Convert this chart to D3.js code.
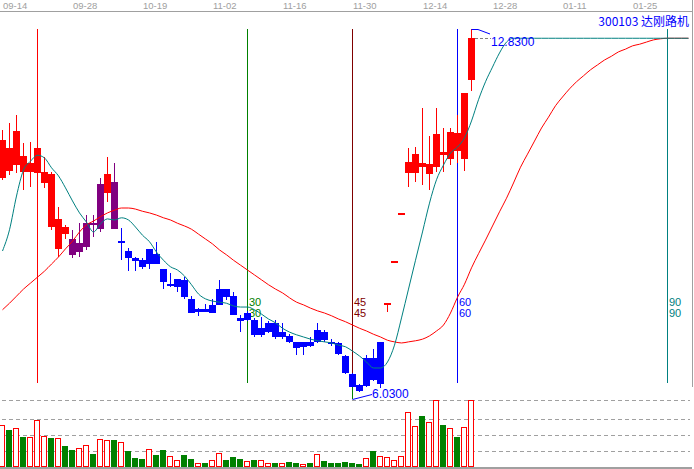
<!DOCTYPE html>
<html><head><meta charset="utf-8">
<script src="https://cdn.jsdelivr.net/npm/d3@7"></script>
<style>html,body{margin:0;padding:0;background:#fff;overflow:hidden}</style>
</head><body><svg id="c" width="694" height="469"></svg>
<script>
// ---------------- data ----------------
const title = "300103 达刚路机";
const nSlots = 99; // 68 trading days + projection slots
const tickIdx = [0,10,20,30,40,50,60,70,80,90];
const tickLabels = ["09-14","09-28","10-19","11-02","11-16","11-30","12-14","12-28","01-11","01-25"];

const open  = [10.09,10.64,10.33,10.50,10.20,10.18,10.00,10.17,8.79,9.19,
               8.97,8.73,8.82,9.27,9.15,9.82,10.02,8.92,8.75,8.62,
               8.58,8.51,8.70,8.42,8.13,8.09,8.22,7.87,7.63,7.68,
               7.61,7.76,8.05,7.92,7.52,7.48,7.48,7.21,7.26,7.43,
               7.17,7.19,7.08,6.99,7.08,7.08,7.26,7.08,7.06,6.82,
               6.49,6.29,6.27,6.78,6.31,7.77,8.57,9.45,10.18,10.18,
               10.37,10.17,10.29,10.57,10.44,10.92,10.44,11.89];
const high  = [10.97,11.10,11.25,10.73,10.75,11.01,10.48,10.20,9.56,9.23,
               9.14,9.26,9.41,9.41,10.09,10.48,10.37,9.17,8.81,8.64,
               8.62,8.79,8.92,8.42,8.35,8.24,8.27,7.92,7.70,7.78,
               7.87,8.22,8.05,8.00,7.57,7.65,7.52,7.54,7.46,7.48,
               7.43,7.22,7.08,7.08,7.17,7.43,7.30,7.13,7.08,6.84,
               6.51,6.31,6.84,6.95,7.08,7.79,8.57,9.45,10.64,10.66,
               11.38,10.86,11.38,11.01,11.01,11.25,11.65,12.83];
const low   = [10.06,10.15,10.18,9.87,9.93,9.96,9.91,9.14,8.64,8.97,
               8.62,8.64,8.77,9.01,9.10,9.65,9.15,8.58,8.38,8.38,
               8.42,8.42,8.51,8.05,8.09,8.00,7.87,7.61,7.56,7.63,
               7.61,7.76,7.85,7.57,7.26,7.46,7.17,7.17,7.24,7.13,
               7.13,7.06,6.84,6.84,6.99,7.06,7.08,7.00,6.84,6.49,
               6.03,6.16,6.25,6.36,6.23,7.63,8.57,9.45,9.93,10.02,
               9.96,9.87,10.20,10.20,10.33,10.37,10.22,11.69];
const close = [10.79,10.22,10.96,10.20,10.37,10.64,10.20,9.19,9.34,9.06,
               8.68,8.90,9.26,9.25,9.98,10.17,9.15,8.93,8.62,8.57,
               8.46,8.79,8.51,8.18,8.14,8.24,7.90,7.61,7.68,7.63,
               7.76,8.05,7.90,7.57,7.46,7.61,7.21,7.33,7.43,7.17,
               7.26,7.08,6.97,7.08,7.00,7.30,7.11,7.06,6.86,6.51,
               6.25,6.18,6.78,6.38,7.08,7.79,8.57,9.45,10.39,10.53,
               10.29,10.35,10.90,10.51,10.94,10.59,11.65,12.66];
// trend state that colours each candle: 1 = rising, 0 = turning, -1 = falling
const trendState = [1,1,1,1,1,1,1,1,1,1, 0,0,0,0,0,1,0,-1,-1,-1,
  -1,-1,-1,-1,-1,-1,-1,-1,-1,-1, -1,-1,-1,-1,-1,-1,-1,-1,-1,-1,
  -1,-1,-1,-1,-1,-1,-1,-1,-1,-1, -1,-1,-1,-1,-1,1,1,1,1,1, 1,1,1,1,1,1,1,1];
const volume = [420,370,390,300,300,470,310,290,290,210,
                170,190,220,130,280,270,270,250,160,90,
                80,180,120,170,110,70,120,80,40,40,
                70,140,70,100,80,60,70,70,40,40,
                40,50,40,30,40,130,60,40,40,50,
                40,30,90,160,110,100,70,110,550,410,
                510,450,670,420,390,300,400,670];
const volumeGrid = [160,320,480,670];
// short (teal) and long (red) moving averages, incl. projection slots
const maShort = [8.75,9.14,9.76,10.24,10.40,10.51,10.46,10.28,10.13,9.91,
  9.67,9.45,9.28,9.10,9.25,9.34,9.32,9.36,9.32,9.19,
  9.04,8.92,8.73,8.58,8.46,8.40,8.29,8.13,7.96,7.87,
  7.83,7.81,7.79,7.74,7.72,7.72,7.67,7.59,7.50,7.43,
  7.33,7.26,7.21,7.17,7.13,7.10,7.08,7.06,7.02,6.99,
  6.91,6.82,6.71,6.60,6.60,6.71,7.02,7.52,8.05,8.58,
  9.10,9.63,10.06,10.33,10.55,10.66,10.83,11.14,11.53,11.86,
  12.13,12.39,12.59,12.66,12.66,12.66,12.66,12.66,12.66,12.66,
  12.66,12.66,12.66,12.66,12.66,12.66,12.66,12.66,12.66,12.66,
  12.66,12.66,12.66,12.66,12.66,12.66,12.66,12.66,12.66];
const maLong = [7.67,7.79,7.92,8.05,8.16,8.27,8.38,8.51,8.64,8.79,
  8.93,9.10,9.23,9.30,9.38,9.45,9.50,9.54,9.54,9.52,
  9.48,9.45,9.41,9.36,9.32,9.26,9.21,9.15,9.06,8.97,
  8.88,8.77,8.68,8.58,8.49,8.40,8.31,8.22,8.13,8.05,
  7.98,7.89,7.81,7.76,7.70,7.65,7.61,7.56,7.50,7.45,
  7.39,7.33,7.28,7.22,7.17,7.11,7.08,7.06,7.08,7.10,
  7.13,7.19,7.28,7.39,7.61,7.90,8.14,8.44,8.70,8.95,
  9.21,9.47,9.72,10.00,10.29,10.53,10.77,11.01,11.21,11.42,
  11.58,11.73,11.86,11.97,12.08,12.17,12.26,12.33,12.41,12.46,
  12.52,12.55,12.59,12.63,12.65,12.66,12.66,12.66,12.66];
// time-cycle lines counted from bar 5
const cycleIdx = [5,35,50,65,95];
const cycleLabels = ["","30","45","60","90"];

// ---------------- drawing ----------------
const svg = d3.select("#c");
svg.append("rect").attr("width",694).attr("height",469).attr("fill","#fff");

const x = d3.scaleBand().domain(d3.range(nSlots)).range([-1.5, 691.5]).padding(0);
const cx = i => Math.round(x(i) + x.bandwidth()/2);
const y = d3.scaleLinear().domain([6.03, 12.83]).range([399, 29]);
const vy = d3.scaleLinear().domain([0, 670]).range([467, 400]);

const RED="#ff0000", BLUE="#0000ff", PURPLE="#800080", GREEN="#008000",
      TEAL="#008080", MAROON="#800000", GREY="#a0a0a0";
const trendColor = s => s>0 ? RED : (s<0 ? BLUE : PURPLE);
const cycleColor = [RED, GREEN, MAROON, BLUE, TEAL];
const font = "Liberation Sans, Arial, sans-serif";

// top date axis
svg.append("line").attr("x1",0).attr("x2",692).attr("y1",11.5).attr("y2",11.5)
  .attr("stroke",GREY).attr("stroke-width",1);
svg.append("g").selectAll("text").data(tickIdx).join("text")
  .attr("x", i => cx(i)+1).attr("y", 9)
  .attr("font-family", font).attr("font-size", 9.5).attr("fill", GREY)
  .text((d,k) => tickLabels[k]);

// right border
svg.append("line").attr("x1",692.5).attr("x2",692.5).attr("y1",0).attr("y2",387)
  .attr("stroke",GREY);

// volume grid
svg.append("g").selectAll("line").data(volumeGrid).join("line")
  .attr("x1",2).attr("x2",690)
  .attr("y1", v => Math.round(vy(v))+0.5).attr("y2", v => Math.round(vy(v))+0.5)
  .attr("stroke",GREY).attr("stroke-dasharray","4,3");
svg.append("line").attr("x1",0).attr("x2",692).attr("y1",468).attr("y2",468)
  .attr("stroke",GREY).attr("stroke-width",2);

// volume bars
const vb = svg.append("g");
volume.forEach((v,i) => {
  const top = Math.round(vy(v)), base = 467, c = cx(i);
  if (close[i] >= open[i]) {
    vb.append("rect").attr("x", c-2.5).attr("y", top+0.5)
      .attr("width",5).attr("height", Math.max(1, base-top-1))
      .attr("fill","#fff").attr("stroke",RED).attr("stroke-width",1);
  } else {
    vb.append("rect").attr("x", c-3).attr("y", top)
      .attr("width",6).attr("height", base-top).attr("fill",GREEN);
  }
});

// cycle lines
const cl = svg.append("g");
cycleIdx.forEach((i,k) => {
  const c = cx(i)+0.5;
  cl.append("line").attr("x1",c).attr("x2",c).attr("y1",29).attr("y2",383)
    .attr("stroke",cycleColor[k]).attr("stroke-width",1);
  if (cycleLabels[k]) {
    [306,317].forEach(yy => cl.append("text").attr("x",c+1.5).attr("y",yy)
      .attr("font-family",font).attr("font-size",11).attr("fill",cycleColor[k])
      .text(cycleLabels[k]));
  }
});

// candles
const cg = svg.append("g");
open.forEach((o,i) => {
  const c = cx(i), col = trendColor(trendState[i]);
  const hi = Math.round(y(high[i])), lo = Math.round(y(low[i]));
  const bt = Math.round(y(Math.max(o, close[i]))), bb = Math.round(y(Math.min(o, close[i])));
  if (lo > hi) cg.append("line").attr("x1",c+0.5).attr("x2",c+0.5).attr("y1",hi).attr("y2",lo)
      .attr("stroke",col).attr("stroke-width",1);
  cg.append("rect").attr("x",c-3).attr("y",bt).attr("width",7)
    .attr("height",Math.max(2, bb-bt)).attr("fill",col);
});

// moving averages
const line = d3.line().x((d,i)=>cx(i)+0.5).y(d=>y(d)).curve(d3.curveMonotoneX);
svg.append("path").attr("d", line(maLong)).attr("fill","none").attr("stroke",RED).attr("stroke-width",1);
svg.append("path").attr("d", line(maShort)).attr("fill","none").attr("stroke",TEAL).attr("stroke-width",1);

// high / low markers
const hiIdx = d3.maxIndex(high), loIdx = d3.minIndex(low);
{
  const c = cx(hiIdx), hy = Math.round(y(high[hiIdx])), cy = Math.round(y(close[hiIdx]));
  svg.append("polyline").attr("points", `${c+0.5},${hy+0.5} ${c+7},${hy+0.5} ${c+19},${hy+5}`)
    .attr("fill","none").attr("stroke",BLUE);
  svg.append("line").attr("x1",c+4).attr("x2",c+20).attr("y1",cy+0.5).attr("y2",cy+0.5)
    .attr("stroke","#808080").attr("stroke-dasharray","3,2");
  svg.append("text").attr("x",c+20).attr("y",cy+8).attr("font-family",font).attr("font-size",12)
    .attr("fill",BLUE).text(high[hiIdx].toFixed(4));
}
{
  const c = cx(loIdx), ly = Math.round(y(low[loIdx])), by = Math.round(y(Math.min(open[loIdx],close[loIdx])));
  svg.append("line").attr("x1",c+0.5).attr("x2",c+0.5).attr("y1",by).attr("y2",ly)
    .attr("stroke",GREEN);
  svg.append("line").attr("x1",c+0.5).attr("y1",ly+0.5).attr("x2",c+20).attr("y2",ly-4.5)
    .attr("stroke",BLUE);
  svg.append("text").attr("x",c+20).attr("y",ly-1).attr("font-family",font).attr("font-size",12)
    .attr("fill",BLUE).text(low[loIdx].toFixed(4));
}

// title
svg.append("text").attr("x",689).attr("y",25.5).attr("text-anchor","end")
  .attr("font-family","Noto Sans CJK SC, sans-serif").attr("font-size",12)
  .attr("fill",BLUE).text(title);
</script></body></html>
